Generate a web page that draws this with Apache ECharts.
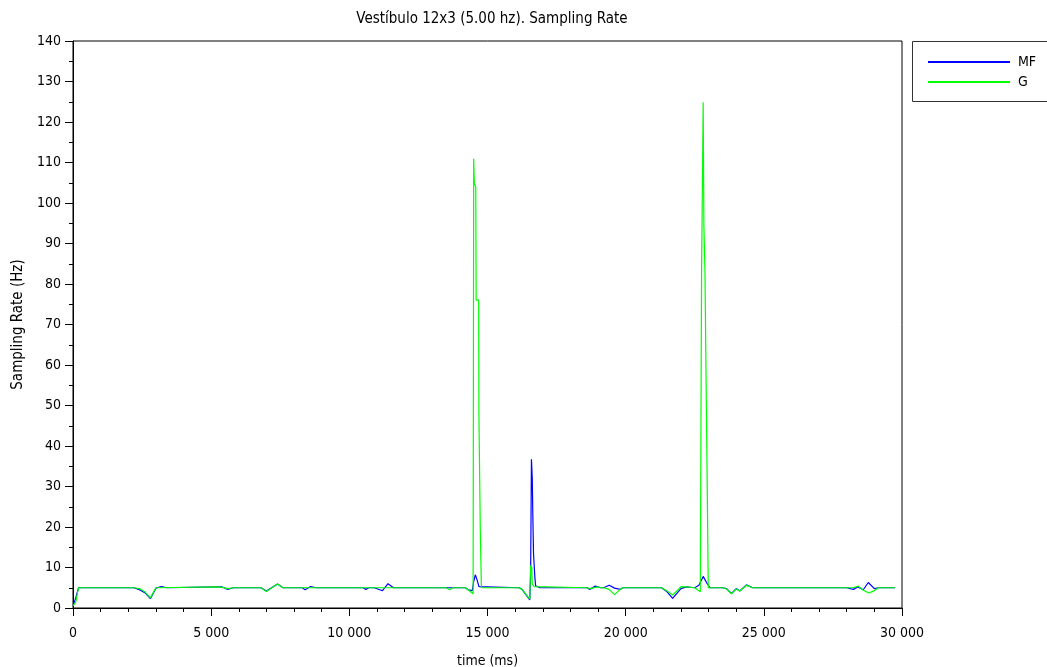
<!DOCTYPE html>
<html>
<head>
<meta charset="utf-8">
<script src="https://cdn.jsdelivr.net/npm/echarts@6/dist/echarts.min.js"></script>
<style>html,body{margin:0;padding:0;background:#fff;}#c{width:1047px;height:667px;}</style>
</head>
<body>
<div id="c"></div>
<script>
const titleText = 'Vestíbulo 12x3 (5.00 hz). Sampling Rate';
const seriesNames = ['MF', 'G'];
const xTicks = [0, 5000, 10000, 15000, 20000, 25000, 30000];
const yTicks = [0, 10, 20, 30, 40, 50, 60, 70, 80, 90, 100, 110, 120, 130, 140];

const mfData = [
  [0,0.5],[100,2.5],[200,5],
  [2200,5],[2400,4.5],[2600,3.8],[2800,2.3],[3000,4.9],[3200,5.3],[3400,5],
  [5200,5.2],[5400,5.2],[5600,4.6],[5800,5],
  [6800,5],[7000,4.2],[7400,5.9],[7600,5],
  [8300,5],[8400,4.5],[8600,5.3],[8800,5],
  [10500,5],[10600,4.6],[10700,5],
  [10900,5],[11100,4.5],[11200,4.3],[11400,6],[11600,5],
  [14200,5],[14300,4.5],[14450,4.3],[14500,6.5],[14560,8.2],[14620,7],[14690,5.3],[14760,5],
  [16150,5],[16250,4.6],[16530,2.0],[16560,8],[16590,36.7],[16620,32],[16640,23],[16665,13.5],[16710,8],[16740,5.5],[16800,5.4],[16900,5],
  [18600,5],[18700,4.6],[18900,5.4],[19100,5],
  [19200,5],[19400,5.6],[19600,4.9],[19800,4.6],[19900,5],
  [20200,5],[20250,5.3],[20300,5],
  [21300,5],[21500,4],[21700,2.4],[21900,4],[22000,4.8],[22200,5.2],[22500,5],[22650,5.6],[22805,7.8],[22950,6],[23050,5],
  [23500,5],[23650,4.8],[23830,3.6],[24000,4.8],[24130,4.2],[24370,5.7],[24600,5],
  [28000,5],[28240,4.6],[28400,5.2],[28600,4.5],[28780,6.3],[29000,4.8],[29150,5],[29750,5]
];

const gData = [
  [0,0.5],[100,1.5],[200,5],
  [2200,5],[2400,4.8],[2600,4],[2800,2.5],[3000,5],
  [5200,5.2],[5400,5.1],[5600,4.8],[5800,5],
  [6800,5],[7000,4.1],[7400,5.9],[7600,5],
  [13500,5],[13630,4.5],[13750,5],
  [14200,5],[14350,4.2],[14480,3.5],[14500,110.9],[14525,104.8],[14575,104],[14590,76],[14680,76],[14690,47.6],[14730,47.6],[14740,18.9],[14770,18.9],[14780,5],
  [16150,5],[16250,4.6],[16530,2.2],[16560,10.5],[16600,10],[16620,6],[16680,5.3],[16750,5],
  [18600,5],[18700,4.8],[19000,5.2],[19100,5],
  [19200,5],[19400,4.6],[19600,3.3],[19800,4.6],[19900,5],
  [21300,5],[21500,4.2],[21700,3.2],[21900,4.5],[22000,5.3],[22200,5.2],[22500,5],[22700,4],[22740,3.6],
  [22747,83],[22805,124.9],[22830,94.6],[22870,83],[22900,63],[22935,63],[22950,31],[22975,31],[22990,5],
  [23500,5],[23650,4.7],[23830,3.5],[24000,4.7],[24130,4.2],[24370,5.6],[24600,5],
  [28000,5],[28240,5],[28420,5.4],[28600,4.4],[28800,3.7],[29000,4.3],[29150,5],[29750,5]
];

const FONT = "'DejaVu Sans Condensed', 'DejaVu Sans', sans-serif";
function fmtThousands(v) {
  return String(v).replace(/\B(?=(\d{3})+(?!\d))/g, ' ');
}

const chart = echarts.init(document.getElementById('c'), null, {renderer: 'canvas'});
chart.setOption({
  backgroundColor: '#ffffff',
  animation: false,
  title: {
    text: titleText,
    left: 487, top: 7, textAlign: 'center',
    textStyle: {fontFamily: FONT, fontSize: 15, fontWeight: 'normal', color: '#000'}
  },
  grid: {left: 73, right: 145, top: 41, bottom: 59, show: true, borderColor: '#000', borderWidth: 1,
         backgroundColor: 'transparent', containLabel: false, outerBoundsMode: 'none'},
  legend: {
    orient: 'vertical', left: 923, top: 50,
    itemWidth: 82, itemHeight: 2, itemGap: 6, icon: 'rect',
    textStyle: {fontFamily: FONT, fontSize: 14, color: '#000', padding: [0, 0, 0, 3]},
    data: seriesNames
  },
  graphic: [{
    type: 'rect', shape: {x: 912.5, y: 41.5, width: 140, height: 60},
    style: {fill: 'none', stroke: '#333', lineWidth: 1}, silent: true, z: -1
  }],
  xAxis: {
    type: 'value', min: xTicks[0], max: xTicks[xTicks.length - 1], interval: 5000,
    name: 'time (ms)', nameLocation: 'middle', nameGap: 46,
    nameTextStyle: {fontFamily: FONT, fontSize: 14, color: '#000'},
    axisLine: {show: true, onZero: false, lineStyle: {color: '#000', width: 1}},
    axisTick: {show: true, inside: false, length: 8, lineStyle: {color: '#000'}},
    minorTick: {show: true, splitNumber: 5, length: 4, lineStyle: {color: '#000'}},
    splitLine: {show: false},
    axisLabel: {fontFamily: FONT, fontSize: 14, color: '#000', margin: 18, formatter: fmtThousands}
  },
  yAxis: {
    type: 'value', min: yTicks[0], max: yTicks[yTicks.length - 1], interval: 10,
    name: 'Sampling Rate (Hz)', nameLocation: 'middle', nameGap: 46,
    nameTextStyle: {fontFamily: FONT, fontSize: 15, color: '#000'},
    axisLine: {show: true, onZero: false, lineStyle: {color: '#000', width: 1}},
    axisTick: {show: true, inside: false, length: 8, lineStyle: {color: '#000'}},
    minorTick: {show: true, splitNumber: 2, length: 4, lineStyle: {color: '#000'}},
    splitLine: {show: false},
    axisLabel: {fontFamily: FONT, fontSize: 14, color: '#000', margin: 12}
  },
  series: [
    {name: seriesNames[0], type: 'line', data: mfData, showSymbol: false, symbol: 'none',
     lineStyle: {color: '#0000ff', width: 1.2}, itemStyle: {color: '#0000ff'}},
    {name: seriesNames[1], type: 'line', data: gData, showSymbol: false, symbol: 'none',
     lineStyle: {color: '#00ff00', width: 1.2}, itemStyle: {color: '#00ff00'}}
  ]
});
</script>
</body>
</html>
